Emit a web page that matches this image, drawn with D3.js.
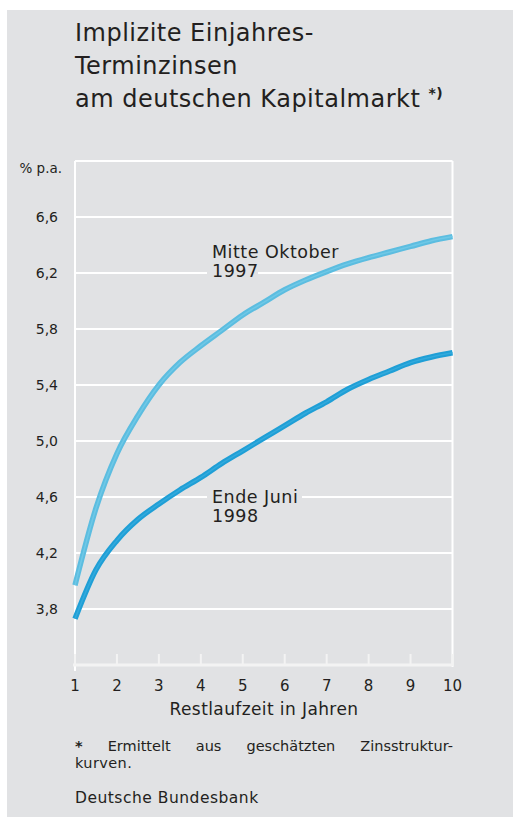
<!DOCTYPE html>
<html>
<head>
<meta charset="utf-8">
<script src="https://cdn.jsdelivr.net/npm/d3@7"></script>
<style>
  body { margin: 0; background: #fff; }
  text { font-family: "DejaVu Sans", sans-serif; fill: #231f20; }
</style>
</head>
<body>
<svg width="513" height="817"></svg>
<script>
// maturities (years)
var maturities = [1, 1.5, 2, 2.5, 3, 3.5, 4, 4.5, 5, 5.5, 6, 6.5, 7, 7.5, 8, 8.5, 9, 9.5, 10];
// Mitte Oktober 1997
var oct1997 = [3.97, 4.52, 4.91, 5.18, 5.40, 5.56, 5.68, 5.79, 5.90, 5.99, 6.08, 6.15, 6.21, 6.265, 6.31, 6.35, 6.39, 6.43, 6.46];
// Ende Juni 1998
var jun1998 = [3.73, 4.08, 4.29, 4.44, 4.55, 4.65, 4.74, 4.84, 4.93, 5.02, 5.11, 5.20, 5.28, 5.37, 5.44, 5.50, 5.56, 5.60, 5.63];
var yTicks = [3.8, 4.2, 4.6, 5.0, 5.4, 5.8, 6.2, 6.6];
var xTicks = [1, 2, 3, 4, 5, 6, 7, 8, 9, 10];

var svg = d3.select("svg"),
    bg = "#e1e2e4";

svg.append("rect").attr("x", 7).attr("y", 10).attr("width", 506).attr("height", 807).attr("fill", bg);

var x = d3.scaleLinear().domain([1, 10]).range([75, 452.5]);
var y = d3.scaleLinear().domain([3.4, 7.0]).range([665, 161]);

// title
var title = svg.append("text").attr("x", 75).attr("font-size", 24).attr("letter-spacing", 0.5);
title.append("tspan").attr("x", 75).attr("y", 41).text("Implizite Einjahres-");
title.append("tspan").attr("x", 75).attr("y", 74).text("Terminzinsen");
title.append("tspan").attr("x", 75).attr("y", 107).text("am deutschen Kapitalmarkt ");
title.append("tspan").attr("font-size", 14).attr("dy", -9).attr("font-weight", "bold").text("*)");

var g = svg.append("g");

// grid
g.selectAll(".grid").data(yTicks).enter().append("line")
  .attr("x1", x(1)).attr("x2", x(10))
  .attr("y1", function(d) { return y(d); }).attr("y2", function(d) { return y(d); })
  .attr("stroke", "#fff").attr("stroke-width", 2);

// frame
g.append("line").attr("x1", x(1)).attr("x2", x(10)).attr("y1", y(7)).attr("y2", y(7))
  .attr("stroke", "#fff").attr("stroke-width", 2);
g.append("line").attr("x1", x(10)).attr("x2", x(10)).attr("y1", y(7)).attr("y2", y(3.4) + 2)
  .attr("stroke", "#fff").attr("stroke-width", 2);
g.append("line").attr("x1", x(1)).attr("x2", x(1)).attr("y1", y(7)).attr("y2", y(3.4) + 6)
  .attr("stroke", "#fff").attr("stroke-width", 2);

// x axis
g.append("line").attr("x1", x(1) - 2).attr("x2", x(10)).attr("y1", y(3.4)).attr("y2", y(3.4))
  .attr("stroke", "#f3f3f3").attr("stroke-width", 3);
g.selectAll(".xt").data(xTicks).enter().append("line")
  .attr("x1", function(d) { return x(d); }).attr("x2", function(d) { return x(d); })
  .attr("y1", y(3.4) - 11).attr("y2", y(3.4) + 1)
  .attr("stroke", "#f3f3f3").attr("stroke-width", 2);
g.selectAll(".xl").data(xTicks).enter().append("text")
  .attr("x", function(d) { return x(d); }).attr("y", 691)
  .attr("text-anchor", "middle").attr("font-size", 15)
  .text(function(d) { return d; });
g.append("text").attr("x", 264).attr("y", 715).attr("text-anchor", "middle")
  .attr("font-size", 17).attr("letter-spacing", 0.4).text("Restlaufzeit in Jahren");

// y labels
var fmt = function(d) { return d3.format(".1f")(d).replace(".", ","); };
g.selectAll(".yl").data(yTicks).enter().append("text")
  .attr("x", 58).attr("y", function(d) { return y(d); }).attr("dy", "0.36em")
  .attr("text-anchor", "end").attr("font-size", 14)
  .text(fmt);
g.append("text").attr("x", 62).attr("y", 173).attr("text-anchor", "end")
  .attr("font-size", 13.5).text("% p.a.");

// series labels with background knockouts
function label(lines, lx, ly, w) {
  g.append("rect").attr("x", lx - 5).attr("y", ly - 15).attr("width", w).attr("height", 40).attr("fill", bg);
  var t = g.append("text").attr("font-size", 17.5).attr("letter-spacing", 0.5);
  lines.forEach(function(s, i) {
    t.append("tspan").attr("x", lx).attr("y", ly + i * 19).text(s);
  });
}
label(["Mitte Oktober", "1997"], 212, 258, 51);
label(["Ende Juni", "1998"], 212, 503, 95);

// lines
var line = d3.line()
  .x(function(d) { return x(d[0]); })
  .y(function(d) { return y(d[1]); })
  .curve(d3.curveMonotoneX);

var series = [
  { values: oct1997, color: "#5cbde0", inner: "#6fc8e6" },
  { values: jun1998, color: "#1f9fd6", inner: "#33aadc" }
];
series.forEach(function(s) {
  var pts = maturities.map(function(m, i) { return [m, s.values[i]]; });
  g.append("path").attr("d", line(pts)).attr("fill", "none")
    .attr("stroke", s.color).attr("stroke-width", 5.5);
  g.append("path").attr("d", line(pts)).attr("fill", "none")
    .attr("stroke", s.inner).attr("stroke-width", 1.5);
});

// footnote, first line justified by spreading the words
var words = ["*", "Ermittelt", "aus", "geschätzten", "Zinsstruktur-"];
var wt = svg.append("g").selectAll("text").data(words).enter().append("text")
  .attr("y", 751).attr("font-size", 14.5)
  .attr("font-weight", function(d) { return d === "*" ? "bold" : null; })
  .text(function(d) { return d; });
var widths = [];
wt.each(function() { widths.push(this.getComputedTextLength()); });
var gap = (378 - d3.sum(widths)) / (words.length - 1), cx = 75;
wt.attr("x", function(d, i) { var p = cx; cx += widths[i] + gap; return p; });

svg.append("text").attr("x", 75).attr("y", 768).attr("font-size", 14.5)
  .attr("letter-spacing", 0.4).text("kurven.");
svg.append("text").attr("x", 75).attr("y", 803).attr("font-size", 15.5)
  .attr("letter-spacing", 0.5).text("Deutsche Bundesbank");
</script>
</body>
</html>
